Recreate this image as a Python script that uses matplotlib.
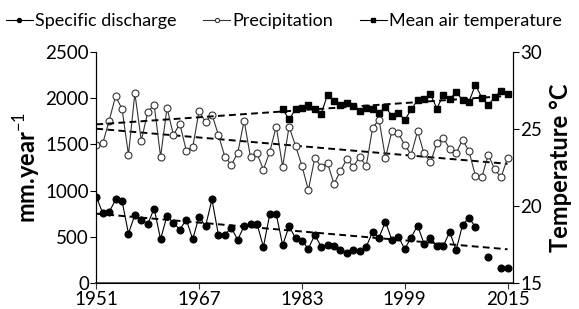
import numpy as np
import matplotlib
matplotlib.use("Agg")
import matplotlib.pyplot as plt

plt.rcParams['font.family'] = ['Lato', 'DejaVu Sans']
plt.rcParams['mathtext.fontset'] = 'custom'
plt.rcParams['mathtext.rm'] = 'Lato'
plt.rcParams['mathtext.bf'] = 'Lato:bold'

# data
years = list(range(1951, 2016))
precipitation = [1494, 1512, 1758, 2021, 1885, 1389, 2054, 1541, 1848, 1931,
                 1367, 1896, 1603, 1722, 1432, 1468, 1866, 1739, 1823, 1603,
                 1367, 1280, 1403, 1758, 1360, 1403, 1228, 1421, 1693, 1259,
                 1693, 1486, 1269, 1006, 1353, 1259, 1294, 1071, 1215, 1342,
                 1259, 1367, 1262, 1678, 1769, 1353, 1642, 1620, 1494, 1389,
                 1642, 1403, 1305, 1512, 1570, 1451, 1403, 1552, 1425, 1161,
                 1145, 1390, 1230, 1145, 1353]
discharge = [933, 756, 767, 904, 890, 535, 738, 680, 637, 806,
             474, 727, 651, 578, 687, 474, 719, 615, 904, 521,
             521, 600, 467, 615, 644, 644, 391, 745, 745, 409,
             615, 485, 456, 372, 521, 394, 412, 398, 361, 326,
             361, 347, 391, 553, 492, 665, 463, 502, 369, 492,
             622, 426, 492, 401, 401, 553, 355, 629, 705, 608,
             np.nan, 280, np.nan, 166, 166]
temp_years = list(range(1980, 2016))
temperature = [26.28, 25.63, 26.27, 26.37, 26.55, 26.28, 26.0, 27.24, 26.8, 26.55,
               26.7, 26.48, 26.2, 26.35, 26.28, 26.07, 26.44, 25.85, 26.07, 25.57,
               26.27, 26.87, 26.94, 27.26, 26.33, 27.2, 26.92, 27.41, 26.87, 26.76,
               27.88, 27.02, 26.55, 27.07, 27.5, 27.28]

# trend lines (end points, 1951 and 2015)
trend_years = [1951, 2015]
discharge_trend = [750, 365]
precip_trend = [1670, 1290]
temp_trend = [25.3, 27.15]

fig = plt.figure(figsize=(5.79, 3.09), dpi=100)
ax = fig.add_axes([0.1658, 0.0841, 0.7202, 0.7476])
ax2 = ax.twinx()

ax.plot(years, discharge, color="black", lw=0.8, marker="o", ms=4.8,
        mfc="black", mec="black", label="Specific discharge", zorder=3)
ax.plot(years, precipitation, color="#333333", lw=0.8, marker="o", ms=5,
        mfc="white", mec="#333333", mew=0.8, label="Precipitation", zorder=3)
ax2.plot(temp_years, temperature, color="black", lw=0.8, marker="s", ms=5,
         mfc="black", mec="black", label="Mean air temperature", zorder=3)

ax.plot(trend_years, discharge_trend, color="black", lw=1.4, ls=(0, (3.5, 2.2)))
ax.plot(trend_years, precip_trend, color="black", lw=1.4, ls=(0, (3.5, 2.2)))
ax2.plot(trend_years, temp_trend, color="black", lw=1.4, ls=(0, (3.5, 2.2)))

ax.set_xlim(1950.95, 2015.85)
ax.set_ylim(0, 2500)
ax2.set_ylim(15, 30)
ax.set_xticks([1951, 1967, 1983, 1999, 2015])
ax.set_yticks([0, 500, 1000, 1500, 2000, 2500])
ax2.set_yticks([15, 20, 25, 30])

for a in (ax, ax2):
    a.spines['top'].set_visible(False)
    a.tick_params(labelsize=13.5, length=4, width=0.8, pad=1)
ax.spines['bottom'].set_color("#555555")
ax.spines['bottom'].set_linewidth(1.4)
ax.tick_params(axis='x', pad=2, color="#333333")

ax.set_ylabel("mm.year$^{-1}$", fontsize=17, fontweight="bold", labelpad=2)
ax2.set_ylabel("Temperature \u00b0C", fontsize=17, fontweight="bold", labelpad=5)

h1, l1 = ax.get_legend_handles_labels()
h2, l2 = ax2.get_legend_handles_labels()
fig.legend(h1 + h2, l1 + l2, loc="upper center", bbox_to_anchor=(0.49, 1.01),
           ncol=3, frameon=False, fontsize=13, handlelength=1.5,
           handletextpad=0.1, columnspacing=1.5, markerscale=0.6)

fig.savefig("out.png", dpi=100)
